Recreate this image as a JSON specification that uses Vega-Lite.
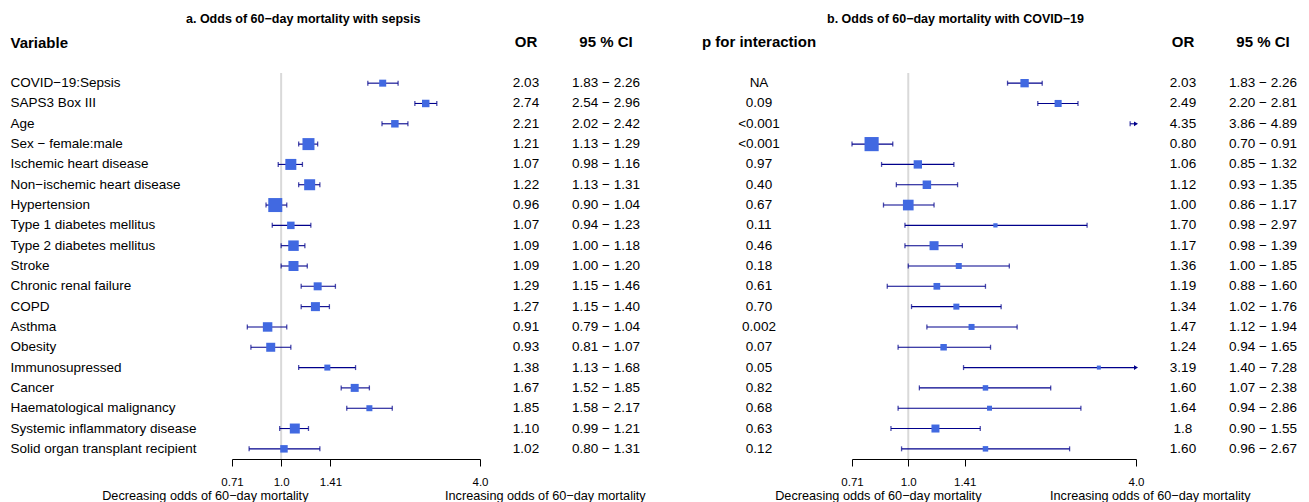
{
  "$schema": "https://vega.github.io/schema/vega-lite/v6.json",
  "padding": {"top": 12, "left": 10, "right": 0, "bottom": 0},
  "background": "white",
  "config": {
    "view": {"stroke": null},
    "font": "Liberation Sans",
    "text": {"font": "Liberation Sans", "fontSize": 13.5, "color": "black"},
    "axis": {"labelFont": "Liberation Sans", "titleFont": "Liberation Sans"},
    "title": {"font": "Liberation Sans", "color": "black"}
  },
  "datasets": {
    "rows": [
      {"variable": "COVID−19:Sepsis", "or_a": 2.03, "lo_a": 1.83, "hi_a": 2.26, "or_a_txt": "2.03", "ci_a_txt": "1.83 − 2.26", "wt_a": 49, "p": "NA", "or_b": 2.03, "lo_b": 1.83, "hi_b": 2.26, "or_b_txt": "2.03", "ci_b_txt": "1.83 − 2.26", "wt_b": 70},
      {"variable": "SAPS3 Box III", "or_a": 2.74, "lo_a": 2.54, "hi_a": 2.96, "or_a_txt": "2.74", "ci_a_txt": "2.54 − 2.96", "wt_a": 56, "p": "0.09", "or_b": 2.49, "lo_b": 2.20, "hi_b": 2.81, "or_b_txt": "2.49", "ci_b_txt": "2.20 − 2.81", "wt_b": 50},
      {"variable": "Age", "or_a": 2.21, "lo_a": 2.02, "hi_a": 2.42, "or_a_txt": "2.21", "ci_a_txt": "2.02 − 2.42", "wt_a": 56, "p": "<0.001", "or_b": 4.35, "lo_b": 3.86, "hi_b": 4.89, "or_b_txt": "4.35", "ci_b_txt": "3.86 − 4.89", "wt_b": 30},
      {"variable": "Sex − female:male", "or_a": 1.21, "lo_a": 1.13, "hi_a": 1.29, "or_a_txt": "1.21", "ci_a_txt": "1.13 − 1.29", "wt_a": 144, "p": "<0.001", "or_b": 0.80, "lo_b": 0.70, "hi_b": 0.91, "or_b_txt": "0.80", "ci_b_txt": "0.70 − 0.91", "wt_b": 200},
      {"variable": "Ischemic heart disease", "or_a": 1.07, "lo_a": 0.98, "hi_a": 1.16, "or_a_txt": "1.07", "ci_a_txt": "0.98 − 1.16", "wt_a": 121, "p": "0.97", "or_b": 1.06, "lo_b": 0.85, "hi_b": 1.32, "or_b_txt": "1.06", "ci_b_txt": "0.85 − 1.32", "wt_b": 70},
      {"variable": "Non−ischemic heart disease", "or_a": 1.22, "lo_a": 1.13, "hi_a": 1.31, "or_a_txt": "1.22", "ci_a_txt": "1.13 − 1.31", "wt_a": 121, "p": "0.40", "or_b": 1.12, "lo_b": 0.93, "hi_b": 1.35, "or_b_txt": "1.12", "ci_b_txt": "0.93 − 1.35", "wt_b": 72},
      {"variable": "Hypertension", "or_a": 0.96, "lo_a": 0.90, "hi_a": 1.04, "or_a_txt": "0.96", "ci_a_txt": "0.90 − 1.04", "wt_a": 196, "p": "0.67", "or_b": 1.00, "lo_b": 0.86, "hi_b": 1.17, "or_b_txt": "1.00", "ci_b_txt": "0.86 − 1.17", "wt_b": 114},
      {"variable": "Type 1 diabetes mellitus", "or_a": 1.07, "lo_a": 0.94, "hi_a": 1.23, "or_a_txt": "1.07", "ci_a_txt": "0.94 − 1.23", "wt_a": 56, "p": "0.11", "or_b": 1.70, "lo_b": 0.98, "hi_b": 2.97, "or_b_txt": "1.70", "ci_b_txt": "0.98 − 2.97", "wt_b": 18},
      {"variable": "Type 2 diabetes mellitus", "or_a": 1.09, "lo_a": 1.00, "hi_a": 1.18, "or_a_txt": "1.09", "ci_a_txt": "1.00 − 1.18", "wt_a": 110, "p": "0.46", "or_b": 1.17, "lo_b": 0.98, "hi_b": 1.39, "or_b_txt": "1.17", "ci_b_txt": "0.98 − 1.39", "wt_b": 81},
      {"variable": "Stroke", "or_a": 1.09, "lo_a": 1.00, "hi_a": 1.20, "or_a_txt": "1.09", "ci_a_txt": "1.00 − 1.20", "wt_a": 100, "p": "0.18", "or_b": 1.36, "lo_b": 1.00, "hi_b": 1.85, "or_b_txt": "1.36", "ci_b_txt": "1.00 − 1.85", "wt_b": 36},
      {"variable": "Chronic renal failure", "or_a": 1.29, "lo_a": 1.15, "hi_a": 1.46, "or_a_txt": "1.29", "ci_a_txt": "1.15 − 1.46", "wt_a": 64, "p": "0.61", "or_b": 1.19, "lo_b": 0.88, "hi_b": 1.60, "or_b_txt": "1.19", "ci_b_txt": "0.88 − 1.60", "wt_b": 45},
      {"variable": "COPD", "or_a": 1.27, "lo_a": 1.15, "hi_a": 1.40, "or_a_txt": "1.27", "ci_a_txt": "1.15 − 1.40", "wt_a": 81, "p": "0.70", "or_b": 1.34, "lo_b": 1.02, "hi_b": 1.76, "or_b_txt": "1.34", "ci_b_txt": "1.02 − 1.76", "wt_b": 36},
      {"variable": "Asthma", "or_a": 0.91, "lo_a": 0.79, "hi_a": 1.04, "or_a_txt": "0.91", "ci_a_txt": "0.79 − 1.04", "wt_a": 90, "p": "0.002", "or_b": 1.47, "lo_b": 1.12, "hi_b": 1.94, "or_b_txt": "1.47", "ci_b_txt": "1.12 − 1.94", "wt_b": 36},
      {"variable": "Obesity", "or_a": 0.93, "lo_a": 0.81, "hi_a": 1.07, "or_a_txt": "0.93", "ci_a_txt": "0.81 − 1.07", "wt_a": 81, "p": "0.07", "or_b": 1.24, "lo_b": 0.94, "hi_b": 1.65, "or_b_txt": "1.24", "ci_b_txt": "0.94 − 1.65", "wt_b": 42},
      {"variable": "Immunosupressed", "or_a": 1.38, "lo_a": 1.13, "hi_a": 1.68, "or_a_txt": "1.38", "ci_a_txt": "1.13 − 1.68", "wt_a": 36, "p": "0.05", "or_b": 3.19, "lo_b": 1.40, "hi_b": 7.28, "or_b_txt": "3.19", "ci_b_txt": "1.40 − 7.28", "wt_b": 16},
      {"variable": "Cancer", "or_a": 1.67, "lo_a": 1.52, "hi_a": 1.85, "or_a_txt": "1.67", "ci_a_txt": "1.52 − 1.85", "wt_a": 64, "p": "0.82", "or_b": 1.60, "lo_b": 1.07, "hi_b": 2.38, "or_b_txt": "1.60", "ci_b_txt": "1.07 − 2.38", "wt_b": 30},
      {"variable": "Haematological malignancy", "or_a": 1.85, "lo_a": 1.58, "hi_a": 2.17, "or_a_txt": "1.85", "ci_a_txt": "1.58 − 2.17", "wt_a": 36, "p": "0.68", "or_b": 1.64, "lo_b": 0.94, "hi_b": 2.86, "or_b_txt": "1.64", "ci_b_txt": "0.94 − 2.86", "wt_b": 25},
      {"variable": "Systemic inflammatory disease", "or_a": 1.10, "lo_a": 0.99, "hi_a": 1.21, "or_a_txt": "1.10", "ci_a_txt": "0.99 − 1.21", "wt_a": 100, "p": "0.63", "or_b": 1.18, "lo_b": 0.90, "hi_b": 1.55, "or_b_txt": "1.8", "ci_b_txt": "0.90 − 1.55", "wt_b": 64},
      {"variable": "Solid organ transplant recipient", "or_a": 1.02, "lo_a": 0.80, "hi_a": 1.31, "or_a_txt": "1.02", "ci_a_txt": "0.80 − 1.31", "wt_a": 56, "p": "0.12", "or_b": 1.60, "lo_b": 0.96, "hi_b": 2.67, "or_b_txt": "1.60", "ci_b_txt": "0.96 − 2.67", "wt_b": 30}
    ]
  },
  "spacing": 20,
  "hconcat": [
    {
      "title": {"text": "a. Odds of 60−day mortality with sepsis", "anchor": "start", "frame": "bounds", "dx": 176, "offset": 10, "fontSize": 12.5, "fontWeight": "bold"},
      "spacing": 0,
      "bounds": "flush",
      "hconcat": [
        {
          "width": 248,
          "height": 386,
          "data": {"name": "rows"},
          "title": {"text": "Increasing odds of 60−day mortality", "orient": "bottom", "anchor": "start", "frame": "group", "dx": 213, "offset": -12, "fontSize": 12.7, "fontWeight": "normal"},
          "layer": [
            {
              "data": {"values": [{"ref": 1}]},
              "mark": {"type": "rule", "color": "#d9d9d9", "strokeWidth": 2},
              "encoding": {
                "x": {
                  "field": "ref", "type": "quantitative",
                  "scale": {"type": "log", "domain": [0.71, 4], "clamp": true, "nice": false},
                  "axis": {"values": [0.71, 1, 1.41, 4], "labelExpr": "datum.value == 1 ? '1.0' : datum.value == 4 ? '4.0' : format(datum.value, '.2f')", "grid": false, "domainColor": "black", "tickColor": "black", "tickSize": 7, "labelPadding": 10, "labelFontSize": 11.5, "labelColor": "black", "labelFlush": false, "labelOverlap": false, "title": "Decreasing odds of 60−day mortality", "titleFontSize": 12.7, "titleFontWeight": "normal", "titleColor": "black", "titleAlign": "right", "titleX": 76, "titleY": 36, "titleBaseline": "middle"}
                }
              }
            },
            {
              "mark": {"type": "rule", "color": "#00008b", "strokeWidth": 1.1},
              "encoding": {
                "x": {"field": "lo_a", "type": "quantitative"},
                "x2": {"field": "hi_a"},
                "y": {
                  "field": "variable", "type": "nominal", "sort": null,
                  "scale": {"type": "band", "paddingInner": 0, "paddingOuter": 0},
                  "axis": {"orient": "left", "domain": false, "ticks": false, "tickSize": 0, "grid": false, "labelAlign": "left", "labelPadding": 222, "labelFontSize": 13.5, "labelColor": "black", "labelLimit": 400, "title": "Variable", "titleAngle": 0, "titleAlign": "left", "titleBaseline": "middle", "titleX": -222, "titleY": -31, "titleFontSize": 15, "titleFontWeight": "bold", "titleColor": "black"}
                }
              }
            },
            {
              "mark": {"type": "tick", "orient": "vertical", "size": 5, "thickness": 1.3, "color": "#00008b"},
              "encoding": {
                "x": {"field": "lo_a", "type": "quantitative"},
                "y": {"field": "variable", "type": "nominal", "sort": null}
              }
            },
            {
              "mark": {"type": "tick", "orient": "vertical", "size": 5, "thickness": 1.3, "color": "#00008b"},
              "encoding": {
                "x": {"field": "hi_a", "type": "quantitative"},
                "y": {"field": "variable", "type": "nominal", "sort": null}
              }
            },
            {
              "mark": {"type": "point", "shape": "square", "filled": true, "color": "#4169e1", "opacity": 1, "strokeWidth": 0},
              "encoding": {
                "x": {"field": "or_a", "type": "quantitative"},
                "y": {"field": "variable", "type": "nominal", "sort": null},
                "size": {"field": "wt_a", "type": "quantitative", "scale": {"type": "linear", "domain": [0, 256], "range": [0, 256]}, "legend": null}
              }
            }
          ]
        },
        {
          "width": 92,
          "height": 386,
          "data": {"name": "rows"},
          "title": {"text": "OR", "fontSize": 15, "fontWeight": "bold", "anchor": "middle", "frame": "group", "offset": 23},
          "mark": {"type": "text", "baseline": "middle", "fontSize": 13.5},
          "encoding": {
            "y": {"field": "variable", "type": "nominal", "sort": null, "scale": {"type": "band", "paddingInner": 0, "paddingOuter": 0}, "axis": null},
            "text": {"field": "or_a_txt", "type": "nominal"}
          }
        },
        {
          "width": 68,
          "height": 386,
          "data": {"name": "rows"},
          "title": {"text": "95 % CI", "fontSize": 15, "fontWeight": "bold", "anchor": "middle", "frame": "group", "offset": 23},
          "mark": {"type": "text", "baseline": "middle", "fontSize": 13.5},
          "encoding": {
            "y": {"field": "variable", "type": "nominal", "sort": null, "scale": {"type": "band", "paddingInner": 0, "paddingOuter": 0}, "axis": null},
            "text": {"field": "ci_a_txt", "type": "nominal"}
          }
        }
      ]
    },
    {
      "title": {"text": "b. Odds of 60−day mortality with COVID−19", "anchor": "start", "frame": "bounds", "dx": 161, "offset": 10, "fontSize": 12.5, "fontWeight": "bold"},
      "spacing": 0,
      "bounds": "flush",
      "hconcat": [
        {
          "width": 186,
          "height": 386,
          "data": {"name": "rows"},
          "title": {"text": "p for interaction", "fontSize": 15, "fontWeight": "bold", "anchor": "middle", "frame": "group", "offset": 23},
          "mark": {"type": "text", "baseline": "middle", "fontSize": 13.5},
          "encoding": {
            "y": {"field": "variable", "type": "nominal", "sort": null, "scale": {"type": "band", "paddingInner": 0, "paddingOuter": 0}, "axis": null},
            "text": {"field": "p", "type": "nominal"}
          }
        },
        {
          "width": 284,
          "height": 386,
          "data": {"name": "rows"},
          "title": {"text": "Increasing odds of 60−day mortality", "orient": "bottom", "anchor": "start", "frame": "group", "dx": 198, "offset": -12, "fontSize": 12.7, "fontWeight": "normal"},
          "layer": [
            {
              "data": {"values": [{"ref": 1}]},
              "mark": {"type": "rule", "color": "#d9d9d9", "strokeWidth": 2},
              "encoding": {
                "x": {
                  "field": "ref", "type": "quantitative",
                  "scale": {"type": "log", "domain": [0.71, 4], "clamp": true, "nice": false},
                  "axis": {"values": [0.71, 1, 1.41, 4], "labelExpr": "datum.value == 1 ? '1.0' : datum.value == 4 ? '4.0' : format(datum.value, '.2f')", "grid": false, "domainColor": "black", "tickColor": "black", "tickSize": 7, "labelPadding": 10, "labelFontSize": 11.5, "labelColor": "black", "labelFlush": false, "labelOverlap": false, "title": "Decreasing odds of 60−day mortality", "titleFontSize": 12.7, "titleFontWeight": "normal", "titleColor": "black", "titleAlign": "right", "titleX": 129, "titleY": 36, "titleBaseline": "middle"}
                }
              }
            },
            {
              "mark": {"type": "rule", "color": "#00008b", "strokeWidth": 1.1},
              "encoding": {
                "x": {"field": "lo_b", "type": "quantitative"},
                "x2": {"field": "hi_b"},
                "y": {"field": "variable", "type": "nominal", "sort": null, "scale": {"type": "band", "paddingInner": 0, "paddingOuter": 0}, "axis": null}
              }
            },
            {
              "mark": {"type": "tick", "orient": "vertical", "size": 5, "thickness": 1.3, "color": "#00008b"},
              "encoding": {
                "x": {"field": "lo_b", "type": "quantitative"},
                "y": {"field": "variable", "type": "nominal", "sort": null, "axis": null}
              }
            },
            {
              "transform": [{"filter": "datum.hi_b <= 4"}],
              "mark": {"type": "tick", "orient": "vertical", "size": 5, "thickness": 1.3, "color": "#00008b"},
              "encoding": {
                "x": {"field": "hi_b", "type": "quantitative"},
                "y": {"field": "variable", "type": "nominal", "sort": null, "axis": null}
              }
            },
            {
              "transform": [{"filter": "datum.hi_b > 4"}],
              "mark": {"type": "point", "shape": "triangle-right", "filled": true, "color": "#00008b", "opacity": 1, "size": 22, "strokeWidth": 0},
              "encoding": {
                "x": {"field": "hi_b", "type": "quantitative"},
                "y": {"field": "variable", "type": "nominal", "sort": null, "axis": null}
              }
            },
            {
              "transform": [{"filter": "datum.or_b <= 4"}],
              "mark": {"type": "point", "shape": "square", "filled": true, "color": "#4169e1", "opacity": 1, "strokeWidth": 0},
              "encoding": {
                "x": {"field": "or_b", "type": "quantitative"},
                "y": {"field": "variable", "type": "nominal", "sort": null, "axis": null},
                "size": {"field": "wt_b", "type": "quantitative", "scale": {"type": "linear", "domain": [0, 256], "range": [0, 256]}, "legend": null}
              }
            }
          ]
        },
        {
          "width": 94,
          "height": 386,
          "data": {"name": "rows"},
          "title": {"text": "OR", "fontSize": 15, "fontWeight": "bold", "anchor": "middle", "frame": "group", "offset": 23},
          "mark": {"type": "text", "baseline": "middle", "fontSize": 13.5},
          "encoding": {
            "y": {"field": "variable", "type": "nominal", "sort": null, "scale": {"type": "band", "paddingInner": 0, "paddingOuter": 0}, "axis": null},
            "text": {"field": "or_b_txt", "type": "nominal"}
          }
        },
        {
          "width": 66,
          "height": 386,
          "data": {"name": "rows"},
          "title": {"text": "95 % CI", "fontSize": 15, "fontWeight": "bold", "anchor": "middle", "frame": "group", "offset": 23},
          "mark": {"type": "text", "baseline": "middle", "fontSize": 13.5},
          "encoding": {
            "y": {"field": "variable", "type": "nominal", "sort": null, "scale": {"type": "band", "paddingInner": 0, "paddingOuter": 0}, "axis": null},
            "text": {"field": "ci_b_txt", "type": "nominal"}
          }
        }
      ]
    }
  ]
}
